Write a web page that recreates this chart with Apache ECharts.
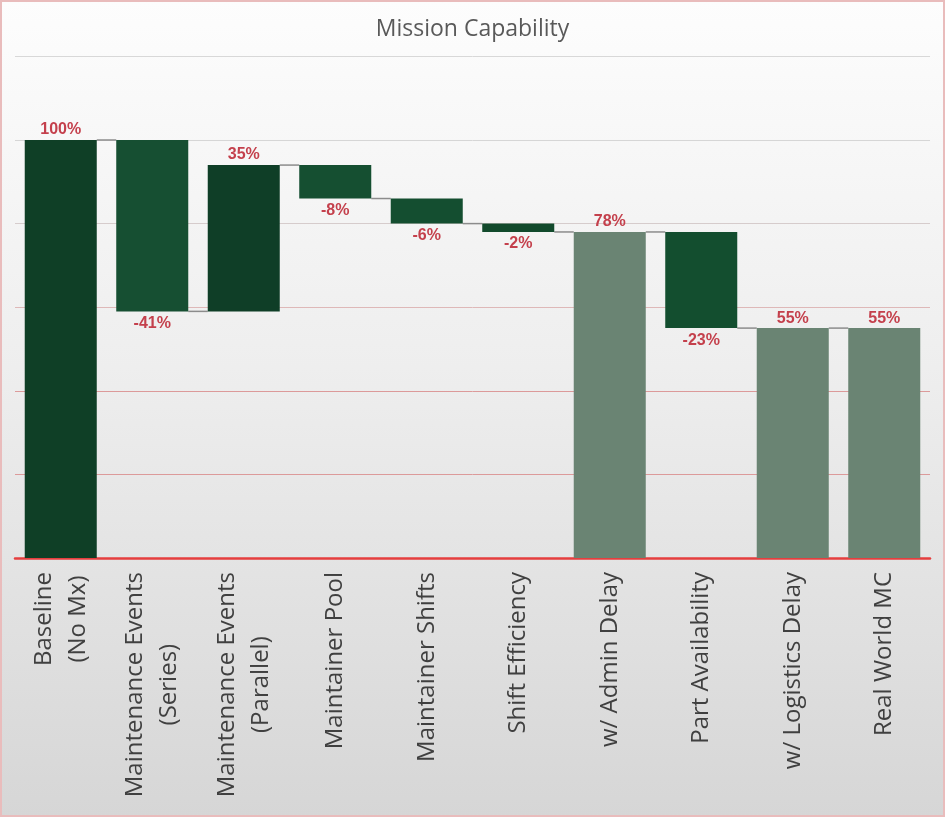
<!DOCTYPE html>
<html>
<head>
<meta charset="utf-8">
<script src="https://cdn.jsdelivr.net/npm/echarts@6/dist/echarts.min.js"></script>
<style>
html,body{margin:0;padding:0;}
#chart{width:945px;height:817px;}
</style>
</head>
<body>
<div id="chart"></div>
<script>
// ---- data ----
const categories = [
  ['Baseline', '(No Mx)'],
  ['Maintenance Events', '(Series)'],
  ['Maintenance Events', '(Parallel)'],
  ['Maintainer Pool'],
  ['Maintainer Shifts'],
  ['Shift Efficiency'],
  ['w/ Admin Delay'],
  ['Part Availability'],
  ['w/ Logistics Delay'],
  ['Real World MC']
];
// percentage values shown on the chart (changes for steps, level for totals)
const values = [100, -41, 35, -8, -6, -2, 78, -23, 55, 55];
// 1 = bar drawn from zero (total), 0 = step from the running level
const isTotal = [1, 0, 0, 0, 0, 0, 1, 0, 1, 1];
const yTicks = [0, 20, 40, 60, 80, 100, 120];

// ---- styles ----
const barColors = ['#0f3f26', '#164f32', '#0f3e27', '#154f31', '#144e30', '#124a2c', '#6a8473', '#134e2f', '#6a8473', '#6a8473'];

// ---- waterfall computation ----
const lows = [], heights = [], levels = [];
let level = 0;
values.forEach((v, i) => {
  if (isTotal[i]) {
    lows.push(0); heights.push(v); level = v;
  } else {
    const next = level + v;
    lows.push(Math.min(level, next)); heights.push(Math.abs(v)); level = next;
  }
  levels.push(level);
});

const connectorData = levels.slice(0, -1).map((l, i) => [i, l]);
const gapRatio = 0.213;

const chart = echarts.init(document.getElementById('chart'));
chart.setOption({
  animation: false,
  backgroundColor: {
    type: 'linear', x: 0, y: 0, x2: 0, y2: 1,
    colorStops: [
      { offset: 0, color: '#fdfdfd' },
      { offset: 0.45, color: '#eeeeee' },
      { offset: 1, color: '#d6d6d6' }
    ]
  },
  title: {
    text: 'Mission Capability',
    left: 'center',
    top: 13,
    textStyle: { fontFamily: 'Open Sans', fontSize: 23, fontWeight: 'normal', color: '#595959' }
  },
  graphic: [{
    type: 'rect', silent: true, z: 100,
    shape: { x: 1, y: 1, width: 943, height: 815 },
    style: { fill: 'none', stroke: '#e9bcbc', lineWidth: 2 }
  }],
  grid: { left: 15, right: 15, top: 56.4, bottom: 259 },
  xAxis: {
    type: 'category',
    data: categories.map(c => c.join('\n')),
    axisLine: { lineStyle: { color: '#e53e3e', width: 2.5 } },
    axisTick: { show: false },
    axisLabel: {
      interval: 0,
      rotate: 90,
      margin: 14,
      fontFamily: 'Open Sans',
      fontSize: 24,
      color: '#404040',
      lineHeight: 34,
      formatter: (v) => v.split('\n').map(s => '{a|' + s + '}').join('\n'),
      rich: { a: { align: 'center', fontFamily: 'Open Sans', fontSize: 24, color: '#404040', lineHeight: 34 } }
    }
  },
  yAxis: {
    type: 'value',
    min: yTicks[0],
    max: yTicks[yTicks.length - 1],
    interval: yTicks[1] - yTicks[0],
    axisLabel: { show: false },
    axisLine: { show: false },
    axisTick: { show: false },
    splitLine: {
      lineStyle: { color: ['#dc9a9a', '#dc9a9a', '#dc9a9a', '#deb8b8', '#d6cccc', '#d6d6d6', '#d8d8d8'], width: 1 }
    }
  },
  series: [
    {
      type: 'bar', stack: 'w', name: 'base',
      barCategoryGap: (gapRatio * 100) + '%',
      itemStyle: { color: 'transparent' },
      data: lows,
      silent: true
    },
    {
      type: 'bar', stack: 'w', name: 'value',
      barCategoryGap: (gapRatio * 100) + '%',
      data: heights.map((h, i) => ({
        value: h,
        itemStyle: { color: barColors[i] },
        label: {
          show: true,
          position: values[i] < 0 ? 'bottom' : 'top',
          distance: values[i] < 0 ? 4 : 2,
          formatter: values[i] + '%',
          fontFamily: 'Liberation Sans, Arial',
          fontSize: 16,
          fontWeight: 'bold',
          color: '#c4404c'
        }
      }))
    },
    {
      type: 'custom', name: 'connectors', z: 1,
      data: connectorData,
      renderItem: (params, api) => {
        const p = api.coord([api.value(0), api.value(1)]);
        const band = api.size([1, 0])[0];
        const half = band * (1 - gapRatio) / 2;
        return {
          type: 'line',
          shape: { x1: p[0] + half, y1: p[1], x2: p[0] + band - half, y2: p[1] },
          style: { stroke: '#8c8c8c', lineWidth: 1.5 }
        };
      }
    }
  ]
});
</script>
</body>
</html>
